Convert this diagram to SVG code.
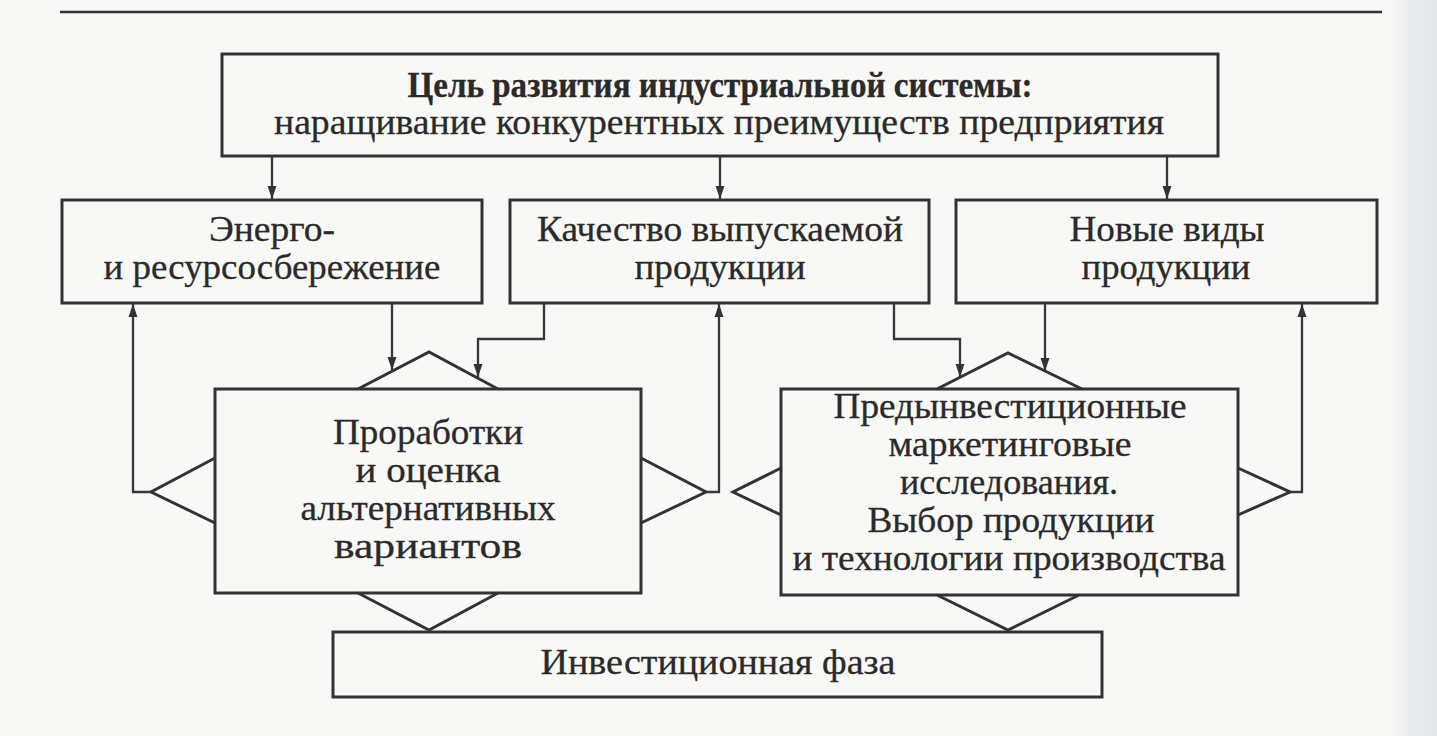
<svg xmlns="http://www.w3.org/2000/svg" width="1437" height="736" viewBox="0 0 1437 736">
<defs>
<linearGradient id="edge" x1="0" y1="0" x2="1" y2="0">
<stop offset="0" stop-color="#f7f7f6"/>
<stop offset="0.4" stop-color="#e9eaee"/>
<stop offset="1" stop-color="#e4e5ea"/>
</linearGradient>
<marker id="arr" markerUnits="userSpaceOnUse" markerWidth="14" markerHeight="10" refX="13" refY="5" orient="auto">
<path d="M0,0.5 L13,5 L0,9.5 z" fill="#333"/>
</marker>
<style>
.box{fill:none;stroke:#333;stroke-width:3}
.tri{fill:none;stroke:#333;stroke-width:3;stroke-linejoin:miter}
.con{fill:none;stroke:#383838;stroke-width:2.3}
.arr{marker-end:url(#arr)}
text{font-family:"Liberation Serif","Times New Roman",serif;font-size:36px;fill:#2a2a2a;stroke:#2a2a2a;stroke-width:0.3;text-anchor:middle}
.s{font-size:35px}
.b{font-weight:bold}
</style>
</defs>
<rect x="0" y="0" width="1437" height="736" fill="#f8f8f6"/>
<rect x="1392" y="0" width="45" height="736" fill="url(#edge)"/>
<line x1="60" y1="12" x2="1382" y2="12" stroke="#333" stroke-width="2.5"/>

<g id="connectors">
<line class="con arr" x1="272" y1="156" x2="272" y2="199"/>
<line class="con arr" x1="720" y1="156" x2="720" y2="199"/>
<line class="con arr" x1="1167" y1="156" x2="1167" y2="199"/>
<line class="con arr" x1="392" y1="303" x2="392" y2="370"/>
<path class="con arr" d="M544,303 V339 H478 V377"/>
<path class="con arr" d="M894,303 V339 H960 V377"/>
<line class="con arr" x1="1045" y1="303" x2="1045" y2="371"/>
<path class="con arr" d="M151,492 H133 V304"/>
<path class="con arr" d="M706,492 H719 V304"/>
<path class="con arr" d="M1290,492 H1302 V304"/>
</g>

<g id="goal">
<rect class="box" x="222" y="54" width="996" height="102"/>
<text class="b" x="720" y="97" textLength="625" lengthAdjust="spacingAndGlyphs">Цель развития индустриальной системы:</text>
<text x="719" y="134" textLength="890" lengthAdjust="spacingAndGlyphs">наращивание конкурентных преимуществ предприятия</text>
</g>

<g id="energy">
<rect class="box" x="62" y="200" width="420" height="103"/>
<text class="s" x="272" y="241" textLength="126" lengthAdjust="spacingAndGlyphs">Энерго-</text>
<text class="s" x="272" y="279" textLength="337" lengthAdjust="spacingAndGlyphs">и ресурсосбережение</text>
</g>

<g id="quality">
<rect class="box" x="510" y="200" width="419" height="103"/>
<text class="s" x="720" y="241" textLength="366" lengthAdjust="spacingAndGlyphs">Качество выпускаемой</text>
<text class="s" x="720" y="279" textLength="171" lengthAdjust="spacingAndGlyphs">продукции</text>
</g>

<g id="newproducts">
<rect class="box" x="956" y="200" width="421" height="103"/>
<text class="s" x="1167" y="241" textLength="195" lengthAdjust="spacingAndGlyphs">Новые виды</text>
<text class="s" x="1166" y="279" textLength="169" lengthAdjust="spacingAndGlyphs">продукции</text>
</g>

<g id="alternatives">
<polyline class="tri" points="358,389 429,352 498,389"/>
<polyline class="tri" points="358,593 429,630 498,593"/>
<polyline class="tri" points="215,458 151,492 215,523"/>
<polyline class="tri" points="641,458 706,492 641,523"/>
<rect class="box" x="215" y="389" width="426" height="204"/>
<text x="428" y="444" textLength="190" lengthAdjust="spacingAndGlyphs">Проработки</text>
<text x="428" y="482" textLength="145" lengthAdjust="spacingAndGlyphs">и оценка</text>
<text x="428" y="520" textLength="255" lengthAdjust="spacingAndGlyphs">альтернативных</text>
<text x="428" y="558" textLength="188" lengthAdjust="spacingAndGlyphs">вариантов</text>
</g>

<g id="preinvest">
<polyline class="tri" points="937,389 1008,353 1082,389"/>
<polyline class="tri" points="937,595 1008,630 1079,595"/>
<polyline class="tri" points="781,468 733,492 781,515"/>
<polyline class="tri" points="1238,468 1290,492 1238,515"/>
<rect class="box" x="781" y="389" width="457" height="206"/>
<text x="1010" y="418" textLength="353" lengthAdjust="spacingAndGlyphs">Предынвестиционные</text>
<text x="1010" y="456" textLength="243" lengthAdjust="spacingAndGlyphs">маркетинговые</text>
<text x="1009" y="494" textLength="218" lengthAdjust="spacingAndGlyphs">исследования.</text>
<text x="1011" y="532" textLength="287" lengthAdjust="spacingAndGlyphs">Выбор продукции</text>
<text x="1009" y="570" textLength="433" lengthAdjust="spacingAndGlyphs">и технологии производства</text>
</g>

<g id="investphase">
<rect class="box" x="333" y="632" width="769" height="65"/>
<text x="718" y="674" textLength="355" lengthAdjust="spacingAndGlyphs">Инвестиционная фаза</text>
</g>
</svg>
